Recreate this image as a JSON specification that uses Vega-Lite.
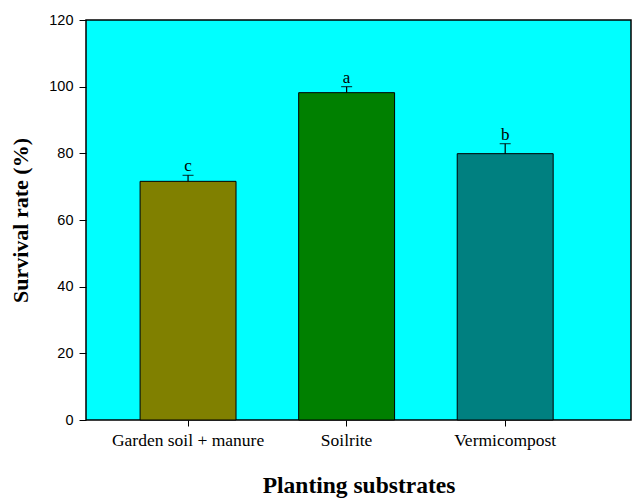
{
  "$schema": "https://vega.github.io/schema/vega-lite/v6.json",
  "width": 545,
  "height": 400,
  "autosize": "none",
  "padding": {"left": 86, "top": 20, "right": 5, "bottom": 80},
  "background": "white",
  "config": {
    "view": {"fill": "#00FFFF", "stroke": "black", "strokeWidth": 1.5}
  },
  "data": {
    "values": [
      {"substrate": "Garden soil + manure", "survival": 71.6, "upper": 73.4, "letter": "c"},
      {"substrate": "Soilrite", "survival": 98.2, "upper": 100.0, "letter": "a"},
      {"substrate": "Vermicompost", "survival": 79.9, "upper": 82.9, "letter": "b"}
    ]
  },
  "encoding": {
    "x": {
      "field": "substrate",
      "type": "nominal",
      "sort": null,
      "scale": {"paddingInner": 0.395, "paddingOuter": 0.416, "align": 0.41},
      "axis": {
        "title": "Planting substrates",
        "titleFont": "Liberation Serif",
        "titleFontSize": 23.5,
        "titleFontWeight": "bold",
        "titleColor": "black",
        "titlePadding": 25,
        "labelFont": "Liberation Serif",
        "labelFontSize": 17.5,
        "labelColor": "black",
        "labelAngle": 0,
        "labelPadding": 5,
        "tickColor": "black",
        "tickSize": 6,
        "domain": false,
        "grid": false
      }
    }
  },
  "layer": [
    {
      "mark": {"type": "bar", "stroke": "black", "strokeWidth": 1},
      "encoding": {
        "y": {
          "field": "survival",
          "type": "quantitative",
          "scale": {"domain": [0, 120], "nice": false},
          "axis": {
            "title": "Survival rate (%)",
            "titleFont": "Liberation Serif",
            "titleFontSize": 22,
            "titleFontWeight": "bold",
            "titleColor": "black",
            "titlePadding": 16,
            "values": [0, 20, 40, 60, 80, 100, 120],
            "labelFont": "Liberation Sans",
            "labelFontSize": 14.5,
            "labelColor": "black",
            "labelPadding": 6,
            "tickColor": "black",
            "tickSize": 7,
            "domain": false,
            "grid": false
          }
        },
        "fill": {
          "field": "substrate",
          "type": "nominal",
          "scale": {
            "domain": ["Garden soil + manure", "Soilrite", "Vermicompost"],
            "range": ["#808000", "#008000", "#008080"]
          },
          "legend": null
        }
      }
    },
    {
      "mark": {"type": "rule", "color": "black", "strokeWidth": 1.2},
      "encoding": {
        "y": {"field": "survival", "type": "quantitative"},
        "y2": {"field": "upper"}
      }
    },
    {
      "mark": {"type": "tick", "color": "black", "thickness": 1.2, "size": 11, "orient": "horizontal"},
      "encoding": {
        "y": {"field": "upper", "type": "quantitative"}
      }
    },
    {
      "mark": {"type": "text", "font": "Liberation Serif", "fontSize": 17, "color": "black", "baseline": "alphabetic", "dy": -4},
      "encoding": {
        "y": {"field": "upper", "type": "quantitative"},
        "text": {"field": "letter"}
      }
    }
  ]
}
